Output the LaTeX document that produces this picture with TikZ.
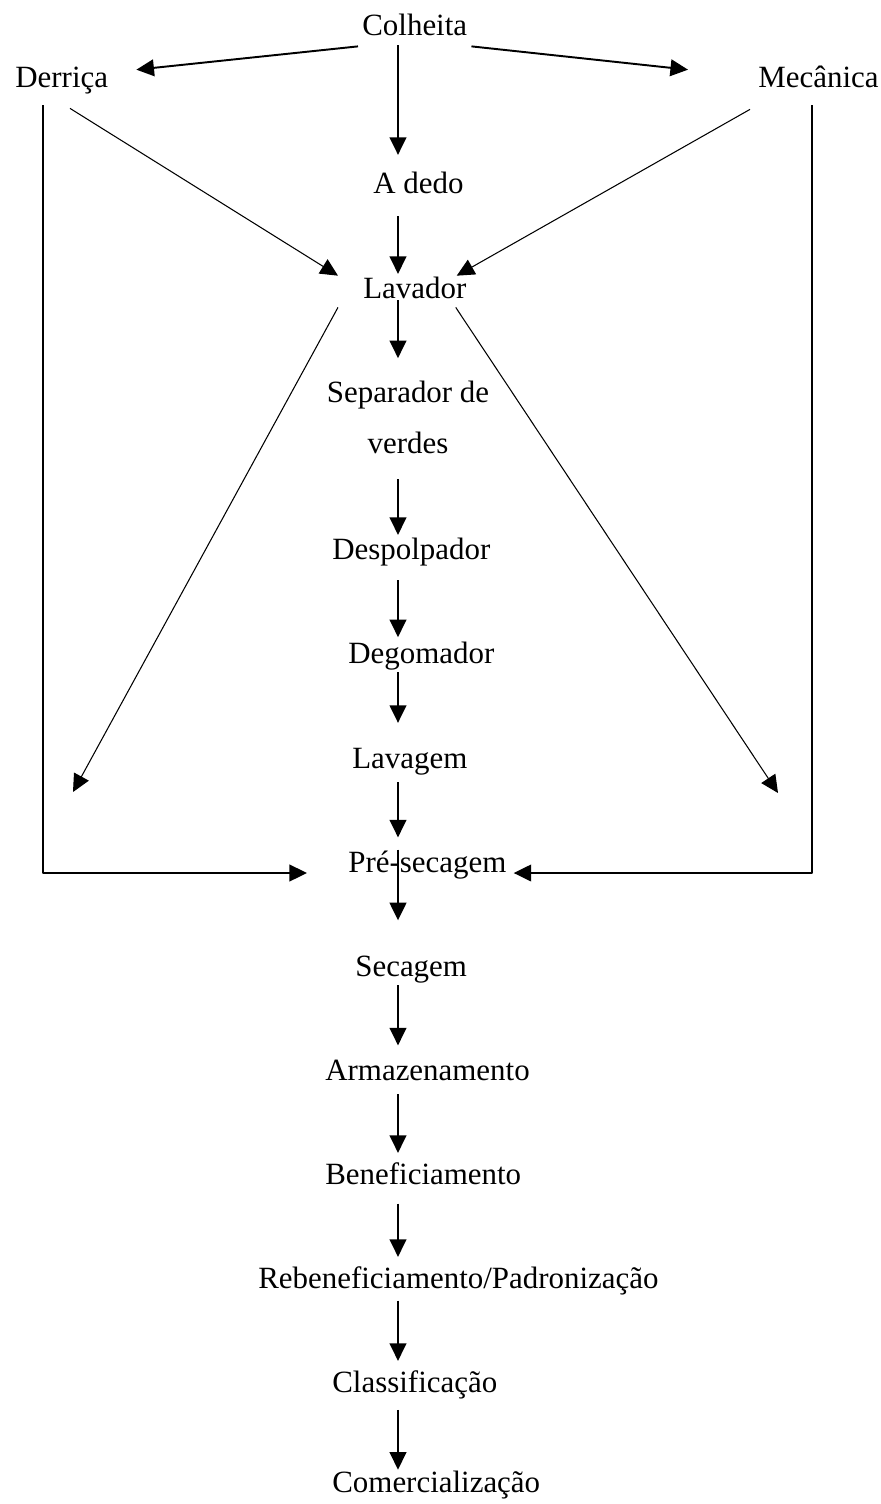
\documentclass[tikz,border=0pt]{standalone}
\usepackage{fontspec}
\setmainfont{Liberation Serif}
\usetikzlibrary{arrows.meta,calc}
\begin{document}
\begin{tikzpicture}[x=0.02cm, y=-0.02cm, font=\fontsize{17.6}{29}\selectfont, line join=round,
    >={Triangle[length=10pt,width=9.5pt]},
    etapa/.style={anchor=base west, inner sep=0pt, text height=12.5pt, text depth=4pt},
    fluxo/.style={->, line width=1.1pt, shorten <=4pt, shorten >=5pt},
    fino/.style={->, line width=0.6pt}]
	\useasboundingbox (0,0) rectangle (881,1504);
	\coordinate (col) at (398,0);
	% etapas
	\node[etapa] (colheita) at (362,36) {Colheita};
	\node[etapa] (derrica) at (15,88) {Derriça};
	\node[etapa] (mecanica) at (758,88) {Mecânica};
	\node[etapa] (adedo) at (373,193) {A dedo};
	\node[etapa] (lavador) at (363,298) {Lavador};
	\node[anchor=north, align=center, inner sep=0pt] (separador) at (408,381) {Separador de\\verdes};
	\node[etapa] (despolpador) at (332,559) {Despolpador};
	\node[etapa] (degomador) at (348,663) {Degomador};
	\node[etapa] (lavagem) at (352,768) {Lavagem};
	\node[etapa] (presecagem) at (348,872) {Pré-secagem};
	\node[etapa] (secagem) at (355,976) {Secagem};
	\node[etapa] (armazenamento) at (325,1080) {Armazenamento};
	\node[etapa] (beneficiamento) at (325,1184) {Beneficiamento};
	\node[etapa] (rebeneficiamento) at (258,1288) {Rebeneficiamento/Padronização};
	\node[etapa] (classificacao) at (332,1392) {Classificação};
	\node[etapa] (comercializacao) at (332,1492) {Comercialização};
	\coordinate (esq) at (73,792);
	\coordinate (dir) at (778,793);
	% coluna central
	\draw[fluxo, shorten <=1pt, shorten >=9pt] (colheita.south -| col) -- (adedo.north -| col);
	\draw[fluxo, shorten <=9pt, shorten >=1pt] (adedo.south -| col) -- (lavador.north -| col);
	\draw[fluxo, shorten <=-3pt, shorten >=13pt] (lavador.south -| col) -- (separador.north -| col);
	\draw[fluxo, shorten <=14pt, shorten >=1pt] (separador.south -| col) -- (despolpador.north -| col);
	\draw[fluxo, shorten <=8pt, shorten >=2pt] (despolpador.south -| col) -- (degomador.north -| col);
	\draw[fluxo, shorten <=1pt, shorten >=13pt] (degomador.south -| col) -- (lavagem.north -| col);
	\draw[fluxo, shorten >=7pt] (lavagem.south -| col) -- (presecagem.north -| col);
	\draw[fluxo, shorten <=0pt, shorten >=19pt] (presecagem.north -| col) -- (secagem.north -| col);
	\draw[fluxo, shorten <=1pt, shorten >=7pt] (secagem.south -| col) -- (armazenamento.north -| col);
	\draw[fluxo] (armazenamento.south -| col) -- (beneficiamento.north -| col);
	\draw[fluxo, shorten <=7pt] (beneficiamento.south -| col) -- (rebeneficiamento.north -| col);
	\draw[fluxo, shorten <=3pt] (rebeneficiamento.south -| col) -- (classificacao.north -| col);
	\draw[fluxo, shorten <=6pt, shorten >=0pt] (classificacao.south -| col) -- (comercializacao.north -| col);
	% tipos de colheita
	\draw[->, line width=1.1pt] ($(colheita.south west)+(-4,3)$) -- ($(derrica.north east)+(28,4)$);
	\draw[->, line width=1.1pt] ($(colheita.south east)+(4,3)$) -- ($(mecanica.north west)+(-70,4)$);
	\draw[fino] ($(derrica.south west)+(55,13)$) -- ($(lavador.north west)+(-25,0)$);
	\draw[fino] ($(mecanica.south west)+(-8,14)$) -- ($(lavador.north east)+(-10,0)$);
	\draw[fino] ($(lavador.south west)+(-25,2)$) -- (esq);
	\draw[fino] ($(lavador.south east)+(-11,2)$) -- (dir);
	\draw[->, line width=1.1pt] ($(derrica.south west)+(28,10)$) |- ($(presecagem.base west)+(-41,1)$);
	\draw[->, line width=1.1pt] ($(mecanica.south west)+(54,10)$) |- ($(presecagem.base east)+(7,1)$);
\end{tikzpicture}
\end{document}
